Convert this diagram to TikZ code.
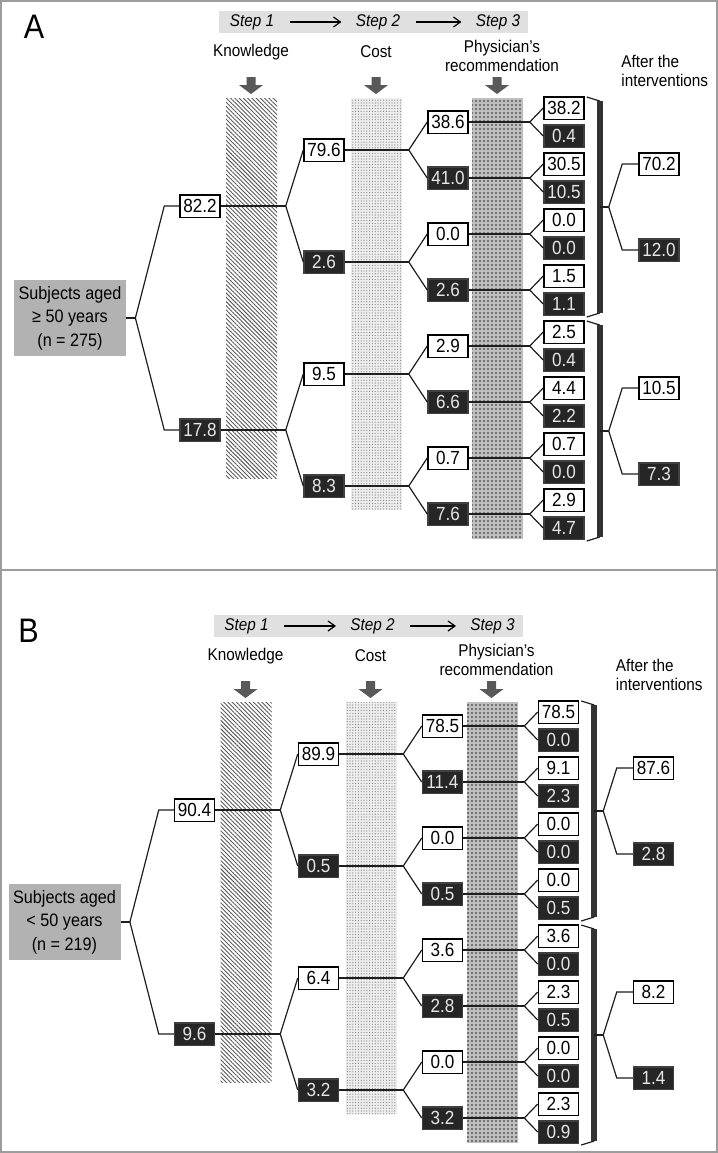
\documentclass[tikz,border=0pt]{standalone}
\usepackage{fontspec}
\setmainfont{Liberation Sans}[FakeStretch=0.9]
\usepackage{tikz}
\usetikzlibrary{calc,arrows.meta,patterns.meta}
\definecolor{frameGrey}{HTML}{9C9C9C}
\definecolor{bandGrey}{HTML}{E0E0E0}
\definecolor{rootGrey}{HTML}{B2B2B2}
\definecolor{noFill}{HTML}{262626}
\definecolor{noText}{HTML}{E6E6E6}
\definecolor{pointerGrey}{HTML}{595959}
\definecolor{lineBlack}{HTML}{1E1E1E}
\tikzset{
  yesbox/.style={rectangle, draw=black, fill=white, line width=0.75pt, font=\fontsize{9.5}{10}\selectfont, minimum width=20pt, minimum height=11.25pt, inner sep=0pt},
  nobox/.style={yesbox, draw=black!75, fill=noFill, text=noText},
  valbox/.code={\ifodd#1\relax\pgfkeysalso{/tikz/nobox}\else\pgfkeysalso{/tikz/yesbox}\fi},
  rootbox/.style={rectangle, fill=rootGrey, align=center, font=\fontsize{9}{11.75}\selectfont, minimum width=56pt, minimum height=38pt, inner sep=0pt},
  treeline/.style={draw=lineBlack, line width=0.6pt},
  bracketbar/.style={draw=black!80, line width=3pt},
  steplabel/.style={font=\fontsize{8.5}{9}\selectfont\itshape, inner sep=0pt},
  steparrow/.style={-{Straight Barb[length=3.5pt,width=5pt]}, line width=0.6pt, shorten <=7.5pt, shorten >=7pt},
  collabel/.style={font=\fontsize{8.5}{9.5}\selectfont, align=center, inner sep=0pt},
  panelletter/.style={font=\fontsize{17}{19}\selectfont, inner sep=0pt},
  knowbar/.style={pattern={Lines[angle=-45,distance=1.5pt,line width=0.45pt]}, pattern color=black!65},
  costbar/.style={preaction={fill=black!7}, pattern={Dots[distance=1.4pt,radius=0.3pt]}, pattern color=black!50},
  physbar/.style={preaction={fill=black!25}, pattern={Dots[distance=2pt,radius=0.55pt]}, pattern color=black!65},
}

\begin{document}
\begin{tikzpicture}[x=0.5pt,y=-0.5pt]
  \useasboundingbox (0,0) rectangle (718,1153);
  \draw[frameGrey, line width=1pt] (1,1) rectangle (716.5,1152);
  \draw[frameGrey, line width=1pt] (1,570) -- (716.5,570);

  \foreach \p/\dx/\dy/\ages/\nn/\knv/\cov/\phv/\lfv/\afv in {
    A/0/0/{≥ 50}/275/{82.2,17.8}/{79.6,2.6,9.5,8.3}/{38.6,41.0,0.0,2.6,2.9,6.6,0.7,7.6}/{38.2,0.4,30.5,10.5,0.0,0.0,1.5,1.1,2.5,0.4,4.4,2.2,0.7,0.0,2.9,4.7}/{70.2,12.0,10.5,7.3},
    B/-5.5/604/{< 50}/219/{90.4,9.6}/{89.9,0.5,6.4,3.2}/{78.5,11.4,0.0,0.5,3.6,2.8,0.0,3.2}/{78.5,0.0,9.1,2.3,0.0,0.0,0.0,0.5,3.6,0.0,2.3,0.5,0.0,0.0,2.3,0.9}/{87.6,2.8,8.2,1.4}} {
  \begin{scope}[shift={(\dx,\dy)}]
    % --- header ---
    \node[panelletter] (\p-let) at (34,27) {\p};
    \fill[bandGrey] (219,11) rectangle (528,33);
    \node[steplabel] (\p-st1) at (252,22) {Step 1};
    \node[steplabel] (\p-st2) at (378,22) {Step 2};
    \node[steplabel] (\p-st3) at (498,22) {Step 3};
    \draw[steparrow] (\p-st1) -- (\p-st2);
    \draw[steparrow] (\p-st2) -- (\p-st3);
    \node[collabel] (\p-know) at (251,52) {Knowledge};
    \node[collabel] (\p-cost) at (376,52) {Cost};
    \node[collabel] (\p-phys) at (502,56) {Physician's\\recommendation};
    \node[collabel, align=left, anchor=west] (\p-after) at (621,71) {After the\\interventions};
    \foreach \cx in {251,376,497}
      \fill[pointerGrey] ({\cx-4.5},77) -- ({\cx+4.5},77) -- ({\cx+4.5},85) -- ({\cx+12},85) -- (\cx,94) -- ({\cx-12},85) -- ({\cx-4.5},85) -- cycle;

    % --- patterned columns ---
    \path[knowbar] (226,98) rectangle (277,478);
    \path[costbar] (351,98) rectangle (402,510);
    \path[physbar] (472,98) rectangle (523,539);

    % --- tree ---
    \node[rootbox] (\p-root) at (70,318) {Subjects aged\\\ages\ years\\(n = \nn)};
    \foreach \v [count=\i from 0] in \knv \node[valbox=\i] (\p-kn\i) at (200,{206+224*\i}) {\v};
    \foreach \v [count=\i from 0] in \cov \node[valbox=\i] (\p-co\i) at (324,{150+112*\i}) {\v};
    \foreach \v [count=\i from 0] in \phv \node[valbox=\i] (\p-ph\i) at (448,{122+56*\i}) {\v};
    \foreach \v [count=\i from 0] in \lfv \node[valbox=\i] (\p-lf\i) at (564,{108+28*\i}) {\v};

    \draw[treeline] (\p-root.east) -- ++(9,0) coordinate (\p-rootb);
    \foreach \i in {0,1} \draw[treeline] (\p-kn\i.west) -- ++(-15,0) -- (\p-rootb);
    \foreach \up/\len/\last in {kn/65/1,co/64/3,ph/61/7}
      \foreach \k in {0,...,\last}
        \draw[treeline] (\p-\up\k.east) -- ++(\len,0) coordinate (\p-\up b\k);
    \foreach \lv/\up/\last in {co/kn/3,ph/co/7,lf/ph/15}
      \foreach \j in {0,...,\last} {
        \pgfmathtruncatemacro\k{floor(\j/2)}
        \draw[treeline] (\p-\up b\k) -- (\p-\lv\j.west);
      }

    % --- brackets and result after the interventions ---
    \foreach \g in {0,1} {
      \pgfmathtruncatemacro\fa{8*\g}
      \pgfmathtruncatemacro\fb{8*\g+7}
      \draw[treeline] ($(\p-lf\fa.north east)+(2,1)$) -- ++(13,4) coordinate (\p-bt\g);
      \draw[treeline] ($(\p-lf\fb.south east)+(2,1)$) -- ++(13,-4) coordinate (\p-bb\g);
      \draw[bracketbar] (\p-bt\g) -- (\p-bb\g);
      \draw[treeline] ($(\p-bt\g)!0.5!(\p-bb\g)$) -- ++(9,0) coordinate (\p-ab\g);
    }
    \foreach \v [count=\i from 0] in \afv {
      \pgfmathtruncatemacro\g{floor(\i/2)}
      \node[valbox=\i] (\p-af\i) at (659,{164+86*mod(\i,2)+224*\g}) {\v};
      \draw[treeline] (\p-af\i.west) -- ++(-16,0) -- (\p-ab\g);
    }
  \end{scope}
  }
\end{tikzpicture}
\end{document}
